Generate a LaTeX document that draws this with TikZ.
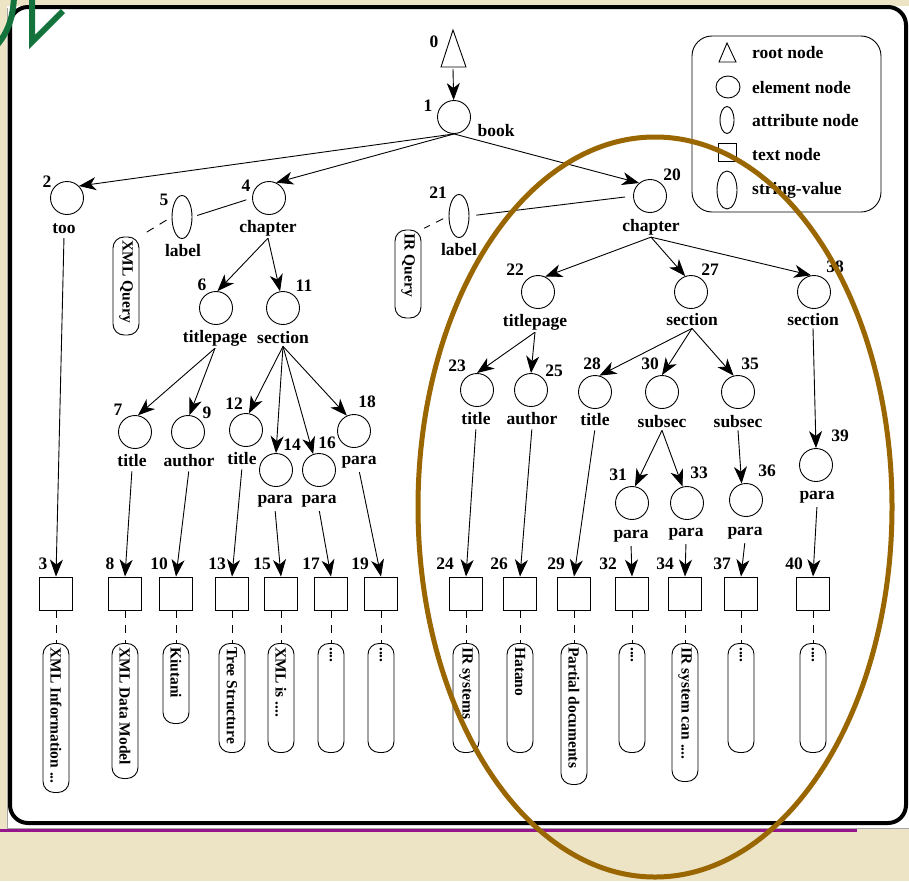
\documentclass[tikz,border=0pt]{standalone}
\usepackage{fontspec}
\setmainfont{Liberation Serif}
\usetikzlibrary{shapes.geometric,arrows.meta}
\definecolor{bgbeige}{RGB}{237,228,198}
\definecolor{ringbrown}{RGB}{153,102,0}
\definecolor{lineviolet}{RGB}{150,20,140}
\definecolor{kanagreen}{RGB}{20,115,60}
\begin{document}
\begin{tikzpicture}[x=1pt,y=-1pt,
  every node/.style={font=\fontsize{17.5}{20}\selectfont\bfseries},
  elem/.style={draw, circle, minimum size=33pt, inner sep=0pt, line width=0.9pt},
  attrnode/.style={draw, ellipse, minimum width=20pt, minimum height=43pt, inner sep=0pt, line width=0.9pt},
  textbox/.style={draw, rectangle, minimum size=33pt, inner sep=0pt, line width=0.9pt},
  strbox/.style={draw, rounded corners=11pt, minimum width=26pt, inner sep=0pt, line width=0.9pt},
  svtext/.style={rotate=-90, anchor=west, inner sep=4pt, font=\fontsize{15.5}{18}\selectfont\bfseries},
  lb/.style={inner sep=2pt},
  nm/.style={inner sep=0pt},
  arr/.style={line width=0.9pt, -{Stealth[length=17pt,width=13pt,inset=5pt]}},
  conn/.style={line width=0.9pt},
  dconn/.style={line width=0.9pt, dash pattern=on 8pt off 7pt},
]
\useasboundingbox (0,0) rectangle (909,881);
\fill[bgbeige] (0,0) rectangle (909,881);
% panel
\fill[white] (7,6) rectangle (909,828);
\draw[gray!70, line width=0.8pt] (7,8) -- (7,828) -- (909,828);
\draw[line width=4pt, rounded corners=18pt] (10,7) rectangle (906,823);
\draw[lineviolet, line width=3pt] (0,830.5) -- (857,830.5);

% legend
\node[draw, rounded corners=20pt, line width=0.9pt, minimum width=189pt, minimum height=176pt, inner sep=0pt] (legend) at (786.5,124) {};
\draw[line width=0.9pt] (719,62) -- (727,43) -- (736,62) -- cycle;
\node[draw, ellipse, minimum width=24pt, minimum height=22pt, inner sep=0pt, line width=0.9pt] (lg2) at (728,87) {};
\node[draw, ellipse, minimum width=14pt, minimum height=27pt, inner sep=0pt, line width=0.9pt] (lg3) at (727,120) {};
\node[draw, minimum size=18pt, inner sep=0pt, line width=0.9pt] (lg4) at (727,152) {};
\node[draw, ellipse, minimum width=20pt, minimum height=38pt, inner sep=0pt, line width=0.9pt] (lg5) at (727,190) {};
\node[anchor=west, inner sep=0pt] (lt1) at (752,53) {root node};
\node[anchor=west, inner sep=0pt] (lt2) at (752,88) {element node};
\node[anchor=west, inner sep=0pt] (lt3) at (752,121) {attribute node};
\node[anchor=west, inner sep=0pt] (lt4) at (752,155) {text node};
\node[anchor=west, inner sep=0pt] (lt5) at (752,190) {string-value};

% root
\draw[line width=0.9pt] (441,67) -- (453,30) -- (466,67) -- cycle;
\coordinate (n0) at (453,69);
\node[nm] (k0) at (434,42) {0};

% element nodes
\node[elem] (n1) at (454,117) {};
\node[nm] (k1) at (428,106) {1};
\node[lb] (l1) at (496,131) {book};

\node[elem] (n2) at (67,198) {};
\node[nm] (k2) at (47,182) {2};
\node[lb] (l2) at (64,229) {too};

\node[elem] (n4) at (269,198) {};
\node[nm] (k4) at (246,186) {4};
\node[lb] (l4) at (268,228) {chapter};

\node[attrnode] (n5) at (182,217) {};
\node[nm] (k5) at (164,200) {5};
\node[lb] (l5) at (183,251) {label};
\node[strbox, minimum height=98pt] (s5) at (126,286) {};
\node[svtext] (v5) at (s5.north) {XML Query};

\node[elem] (n6) at (216,308) {};
\node[nm] (k6) at (202,285) {6};
\node[lb] (l6) at (215,338) {titlepage};

\node[elem] (n11) at (283,308) {};
\node[nm] (k11) at (304,286) {11};
\node[lb] (l11) at (283,338) {section};

\node[elem] (n7) at (135,432) {};
\node[nm] (k7) at (118,410) {7};
\node[lb] (l7) at (132,461) {title};

\node[elem] (n9) at (188,432) {};
\node[nm] (k9) at (207,413) {9};
\node[lb] (l9) at (189,461) {author};

\node[elem] (n12) at (246,430) {};
\node[nm] (k12) at (234,404) {12};
\node[lb] (l12) at (242,459) {title};

\node[elem] (n14) at (276,470) {};
\node[nm] (k14) at (292,445) {14};
\node[lb] (l14) at (275,501) {para};

\node[elem] (n16) at (319,470) {};
\node[nm] (k16) at (327,443) {16};
\node[lb] (l16) at (319,501) {para};

\node[elem] (n18) at (354,431) {};
\node[nm] (k18) at (367,402) {18};
\node[lb] (l18) at (359,462) {para};

\node[elem] (n20) at (650,196) {};
\node[nm] (k20) at (672,175) {20};
\node[lb] (l20) at (651,227) {chapter};

\node[attrnode] (n21) at (459,216) {};
\node[nm] (k21) at (438,193) {21};
\node[lb] (l21) at (459,250) {label};
\node[strbox, minimum height=88pt] (s21) at (408,274) {};
\node[svtext] (v21) at (s21.north) {IR Query};

\node[elem] (n22) at (538,292) {};
\node[nm] (k22) at (515,270) {22};
\node[lb] (l22) at (535,322) {titlepage};

\node[elem] (n27) at (691,292) {};
\node[nm] (k27) at (710,270) {27};
\node[lb] (l27) at (692,320) {section};

\node[elem] (n38) at (814,292) {};
\node[nm] (k38) at (835,267) {38};
\node[lb] (l38) at (813,320) {section};

\node[elem] (n23) at (477,390) {};
\node[nm] (k23) at (457,366) {23};
\node[lb] (l23) at (476,419) {title};

\node[elem] (n25) at (531,390) {};
\node[nm] (k25) at (554,371) {25};
\node[lb] (l25) at (532,419) {author};

\node[elem] (n28) at (595,392) {};
\node[nm] (k28) at (592,364) {28};
\node[lb] (l28) at (595,420) {title};

\node[elem] (n30) at (662,392) {};
\node[nm] (k30) at (650,364) {30};
\node[lb] (l30) at (662,422) {subsec};

\node[elem] (n35) at (738,392) {};
\node[nm] (k35) at (750,364) {35};
\node[lb] (l35) at (738,422) {subsec};

\node[elem] (n31) at (632,503) {};
\node[nm] (k31) at (618,475) {31};
\node[lb] (l31) at (631,536) {para};

\node[elem] (n33) at (687,503) {};
\node[nm] (k33) at (699,473) {33};
\node[lb] (l33) at (686,534) {para};

\node[elem] (n36) at (746,500) {};
\node[nm] (k36) at (767,471) {36};
\node[lb] (l36) at (745,533) {para};

\node[elem] (n39) at (816,465) {};
\node[nm] (k39) at (840,436) {39};
\node[lb] (l39) at (817,497) {para};

% text nodes
\foreach \id/\xx/\nx in {3/56/43,8/125/110,10/176/159,13/232/217,15/281/262,17/331/311,19/381/360,24/466/445,26/520/499,29/574/556,32/632/608,34/685/665,37/741/722,40/813/794}{
  \node[textbox] (t\id) at (\xx,593.5) {};
  \node[nm] (kt\id) at (\nx,564) {\id};
}

% string values
\foreach \id/\xx/\hh/\txt in {3/56/149/{XML Information ...},8/125/135/{XML Data Model},10/176/80/{Kiutani},13/232/109/{Tree Structure},15/281/109/{XML is ....},17/331/109/{....},19/381/109/{....},24/466/109/{IR systems},26/520/109/{Hatano},29/574/141/{Partial documents},32/632/109/{....},34/685/138/{IR system can ....},37/741/109/{....},40/813/109/{....}}{
  \node[strbox, minimum height=\hh pt, anchor=north] (s\id) at (\xx,643) {};
  \node[svtext] (v\id) at (s\id.north) {\txt};
  \draw[dconn] (t\id.south) -- (s\id.north);
}

% connectors
\draw[arr] (n0) -- (n1);
\draw[arr] (n1.south) -- (n2.45);
\draw[arr] (n1.south) -- (n4.65);
\draw[arr] (n1.south) -- (n20.130);
\draw[conn, shorten <=6pt, shorten >=5pt] (n4.west) -- (n5.east);
\draw[dconn, shorten <=6pt, shorten >=3pt] (n5.west) -- (s5.north east);
\draw[arr] (l4.south) -- (n6.85);
\draw[arr] (l4.south) -- (n11.100);
\draw[arr] (l6.south) -- (n7.80);
\draw[arr] (l6.south) -- (n9.85);
\draw[arr] (l11.south) -- (n12.80);
\draw[arr] (l11.south) -- (n14.north);
\draw[arr] (l11.south) -- (n16.110);
\draw[arr] (l11.south) -- (n18.115);

\draw[conn, shorten <=8pt, shorten >=7pt] (n20.west) -- (n21.east);
\draw[dconn, shorten <=6pt, shorten >=3pt] (n21.west) -- (s21.north east);
\draw[arr] (l20.south) -- (n22.65);
\draw[arr] (l20.south) -- (n27.110);
\draw[arr] (l20.south) -- (n38.100);
\draw[arr] (l22.south) -- (n23.north);
\draw[arr] (l22.south) -- (n25.north);
\draw[arr] (l27.south) -- (n28.75);
\draw[arr] (l27.south) -- (n30.north);
\draw[arr] (l27.south) -- (n35.105);
\draw[arr] (l30.south) -- (n31.80);
\draw[arr] (l30.south) -- (n33.105);
\draw[arr] (l35.south) -- (n36.105);
\draw[arr] (l38.south) -- (n39.north);

\foreach \a/\b in {l2/t3,l7/t8,l9/t10,l12/t13,l14/t15,l16/t17,l18/t19,l23/t24,l25/t26,l28/t29,l31/t32,l33/t34,l36/t37,l39/t40}{
  \draw[arr, shorten <=2pt] (\a.south) -- (\b.north);
}

% brown ellipse
\draw[ringbrown, line width=5pt] (655,507) ellipse [x radius=237pt, y radius=370pt];

% green stroke fragment
\draw[kanagreen, line width=6pt] (14,-3) .. controls (13,18) and (8,32) .. (-3,45);
\draw[kanagreen, line width=6pt, line join=miter] (32,-3) -- (32,42) -- (63,11);
\end{tikzpicture}
\end{document}
